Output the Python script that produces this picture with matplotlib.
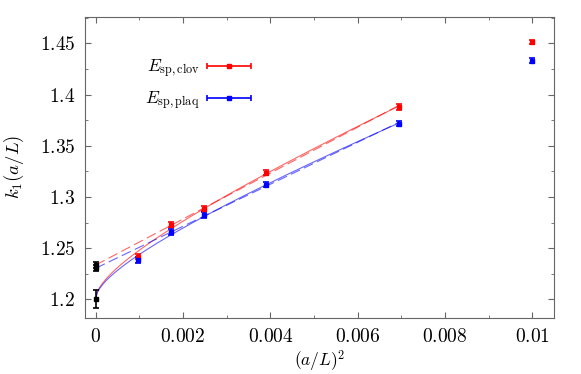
import numpy as np
import matplotlib
matplotlib.use("Agg")
import matplotlib.pyplot as plt
from matplotlib.ticker import FuncFormatter, MultipleLocator, AutoMinorLocator
from matplotlib.legend_handler import HandlerErrorbar

plt.rcParams['font.family'] = 'serif'
plt.rcParams['font.serif'] = ['cmr10']
plt.rcParams['mathtext.fontset'] = 'cm'
plt.rcParams['axes.formatter.use_mathtext'] = True

# Data
x_pts = np.array([0.00096, 0.00172, 0.00248, 0.00389, 0.00694, 0.01])
y_clov = np.array([1.2418, 1.2730, 1.2887, 1.3236, 1.3880, 1.4512])
e_clov = np.array([0.0025, 0.0025, 0.0025, 0.0025, 0.0025, 0.0020])
y_plaq = np.array([1.2386, 1.2658, 1.2821, 1.3119, 1.3717, 1.4330])
e_plaq = np.array([0.0030, 0.0030, 0.0030, 0.0025, 0.0025, 0.0025])

# continuum values at (a/L)^2 = 0: joint sqrt fit, linear clov, linear plaq
y_cont = np.array([1.2005, 1.2337, 1.2305])
e_cont = np.array([0.0090, 0.0030, 0.0030])

x_fit_max = 0.00694


def fit_sqrt(x, y, c0):
    # y = c0 + c1*sqrt(x) + c2*x with c0 fixed
    A = np.vstack([np.sqrt(x), x]).T
    return np.linalg.lstsq(A, y - c0, rcond=None)[0]


def fit_lin(x, y, c0):
    A = np.vstack([x]).T
    return np.linalg.lstsq(A, y - c0, rcond=None)[0]


fig, ax = plt.subplots(figsize=(5.81, 3.74), dpi=100)
fig.subplots_adjust(left=0.146, right=0.954, top=0.955, bottom=0.15)

xx = np.linspace(0, x_fit_max, 200)
for y, c_lin, col in [(y_clov, y_cont[1], '#ff0000'), (y_plaq, y_cont[2], '#0000ff')]:
    m = x_pts <= x_fit_max
    c = fit_sqrt(x_pts[m], y[m], y_cont[0])
    ax.plot(xx, y_cont[0] + c[0] * np.sqrt(xx) + c[1] * xx, color=col, lw=0.8, alpha=0.6)
    m2 = (x_pts <= x_fit_max) & (x_pts > 0.0015)
    c = fit_lin(x_pts[m2], y[m2], c_lin)
    ax.plot(xx, c_lin + c[0] * xx, color=col, lw=0.8, alpha=0.6, dashes=(9, 4))

kw = dict(fmt='s', ms=2.5, capsize=2.5, elinewidth=1.2, capthick=1.2)
ax.errorbar(x_pts, y_clov, yerr=e_clov, color='#ff0000', **kw)
ax.errorbar(x_pts, y_plaq, yerr=e_plaq, color='#0000ff', **kw)
ax.errorbar(np.zeros_like(y_cont), y_cont, yerr=e_cont, color='black', **kw)

# legend proxies with horizontal bars
p1 = ax.errorbar([np.nan], [np.nan], xerr=[np.nan], color='#ff0000', **kw)
p2 = ax.errorbar([np.nan], [np.nan], xerr=[np.nan], color='#0000ff', **kw)
ax.legend([p1, p2], [r'$E_{\rm sp,clov}$', r'$E_{\rm sp,plaq}$'],
          loc='upper left', bbox_to_anchor=(0.095, 0.915), frameon=False,
          markerfirst=False, handlelength=2.5, handletextpad=0.45, fontsize=12.5,
          labelspacing=0.55,
          handler_map={type(p1): HandlerErrorbar(xerr_size=1.25)})

ax.set_xlim(-0.00025, 0.0105)
ax.set_ylim(1.182, 1.476)
ax.xaxis.set_major_locator(MultipleLocator(0.002))
ax.xaxis.set_minor_locator(AutoMinorLocator(2))
ax.yaxis.set_major_locator(MultipleLocator(0.05))
ax.yaxis.set_minor_locator(AutoMinorLocator(2))
fmt = FuncFormatter(lambda v, p: f"${v:g}$")
ax.xaxis.set_major_formatter(fmt)
ax.yaxis.set_major_formatter(fmt)
ax.tick_params(which='both', direction='in', top=True, right=True, color='#666666',
               labelsize=14)
ax.tick_params(axis='x', pad=7)
ax.tick_params(axis='y', pad=7)
ax.tick_params(which='major', length=4)
ax.tick_params(which='minor', length=2.5)
for s in ax.spines.values():
    s.set_color('#666666')

ax.set_xlabel(r'$(a/L)^2$', fontsize=12.5, labelpad=2)
ax.set_ylabel(r'$k_1(a/L)$', fontsize=13.5, labelpad=10)

fig.savefig('out.png', dpi=100)
